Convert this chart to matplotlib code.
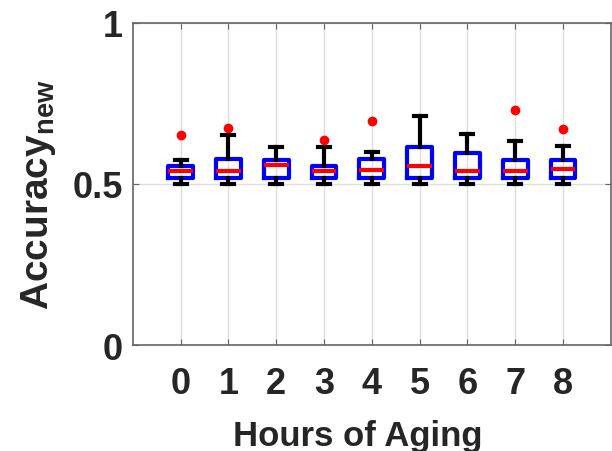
import matplotlib
matplotlib.use("Agg")
from matplotlib import pyplot as plt

plt.rcParams['font.family'] = ['Liberation Sans', 'DejaVu Sans']
plt.rcParams['font.weight'] = 'bold'
plt.rcParams['mathtext.fontset'] = 'custom'
plt.rcParams['mathtext.bf'] = 'Liberation Sans:bold'
plt.rcParams['mathtext.rm'] = 'Liberation Sans:bold'

# box statistics per aging hour (read as accuracy values)
hours = [0, 1, 2, 3, 4, 5, 6, 7, 8]
whislo = [0.500, 0.500, 0.500, 0.500, 0.500, 0.500, 0.500, 0.500, 0.500]
q1 = [0.520, 0.518, 0.518, 0.518, 0.518, 0.520, 0.520, 0.520, 0.520]
med = [0.539, 0.539, 0.559, 0.539, 0.542, 0.557, 0.539, 0.539, 0.547]
q3 = [0.557, 0.578, 0.575, 0.557, 0.578, 0.614, 0.596, 0.575, 0.575]
whishi = [0.575, 0.653, 0.614, 0.614, 0.598, 0.712, 0.655, 0.635, 0.617]
fliers = [[0.653], [0.674], [], [0.638], [0.695], [], [], [0.731], [0.671]]

stats = []
for i in range(len(hours)):
    stats.append(dict(whislo=whislo[i], q1=q1[i], med=med[i], q3=q3[i],
                      whishi=whishi[i], fliers=fliers[i]))

txt = '#262626'
fig = plt.figure(figsize=(6.12, 4.52), dpi=100)
ax = fig.add_axes([0.217, 0.2345, 0.781, 0.7125])

ax.bxp(stats, positions=hours, widths=0.52, patch_artist=False,
       boxprops=dict(color='blue', linewidth=3),
       whiskerprops=dict(color='black', linewidth=3, linestyle='-'),
       capprops=dict(color='black', linewidth=3),
       medianprops=dict(color='red', linewidth=3),
       flierprops=dict(marker='o', markerfacecolor='red', markeredgecolor='red',
                       markersize=6),
       capwidths=0.25, zorder=3)

ax.set_xlim(-1, 9)
ax.set_ylim(0, 1)
ax.set_xticks(hours)
ax.set_xticklabels([str(h) for h in hours])
ax.set_yticks([0, 0.5, 1])
ax.set_yticklabels(['0', '0.5', '1'])
ax.grid(True, color='#dddddd', linewidth=1)
ax.set_axisbelow(True)

for s in ax.spines.values():
    s.set_color('#666666')
    s.set_linewidth(1.2)
ax.tick_params(direction='in', length=4, color='#666666', labelsize=26,
               labelcolor=txt, top=True, right=True)
ax.tick_params(axis='x', pad=15)
ax.tick_params(axis='y', pad=7)
for lab in ax.get_xticklabels() + ax.get_yticklabels():
    lab.set_fontweight('bold')

ax.set_xlabel('Hours of Aging', fontsize=25, fontweight='bold', color=txt)
ax.xaxis.set_label_coords(0.47, -0.23)
ax.set_ylabel(r'$\mathbf{Accuracy}_{\mathbf{new}}$', fontsize=28, color=txt)
ax.yaxis.set_label_coords(-0.157, 0.47)

fig.savefig('out.png', dpi=100)
